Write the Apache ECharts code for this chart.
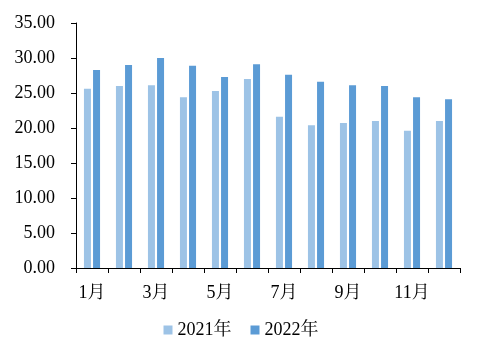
<!DOCTYPE html>
<html>
<head>
<meta charset="utf-8">
<script src="https://cdn.jsdelivr.net/npm/echarts@6/dist/echarts.min.js"></script>
<style>
html,body{margin:0;padding:0;background:#fff;}
#c{width:482px;height:362px;}
</style>
</head>
<body>
<div id="c"></div>
<script>
var categories = ['1月','2月','3月','4月','5月','6月','7月','8月','9月','10月','11月','12月'];
var seriesNames = ['2021年','2022年'];
var values2021 = [25.6, 26.0, 26.1, 24.4, 25.3, 27.0, 21.6, 20.4, 20.7, 21.0, 19.6, 21.0];
var values2022 = [28.3, 29.0, 30.0, 28.9, 27.3, 29.1, 27.6, 26.6, 26.1, 26.0, 24.4, 24.1];

var FONT = "'Liberation Serif', 'Times New Roman', 'Noto Serif CJK SC', 'Noto Sans CJK SC', serif";
var chart = echarts.init(document.getElementById('c'), null, {renderer:'canvas'});
chart.setOption({
  animation: false,
  backgroundColor: '#ffffff',
  textStyle: {fontFamily: FONT},
  grid: {left: 76, right: 22, top: 23, bottom: 94, containLabel: false},
  legend: {
    bottom: 18, left: 'center',
    itemWidth: 9, itemHeight: 9, itemGap: 19,
    icon: 'rect',
    textStyle: {fontFamily: FONT, fontSize: 18, color: '#000'},
    data: seriesNames
  },
  xAxis: {
    type: 'category',
    data: categories,
    axisLine: {lineStyle: {color: '#000', width: 1}},
    axisTick: {show: true, length: 5, interval: 0, lineStyle: {color: '#000'}},
    axisLabel: {interval: 1, margin: 16, fontSize: 18, color: '#000', fontFamily: FONT}
  },
  yAxis: {
    type: 'value',
    min: 0, max: 35, interval: 5,
    axisLine: {show: true, lineStyle: {color: '#000', width: 1}},
    axisTick: {show: true, length: 5, lineStyle: {color: '#000'}},
    splitLine: {show: false},
    axisLabel: {margin: 21, fontSize: 18, color: '#000', fontFamily: FONT,
      formatter: function(v){ return v.toFixed(2); }}
  },
  series: [
    {name: seriesNames[0], type: 'bar', data: values2021, barWidth: 7, barGap: '30%',
     itemStyle: {color: '#9DC3E6'}},
    {name: seriesNames[1], type: 'bar', data: values2022, barWidth: 7,
     itemStyle: {color: '#5B9BD5'}}
  ]
});
</script>
</body>
</html>
